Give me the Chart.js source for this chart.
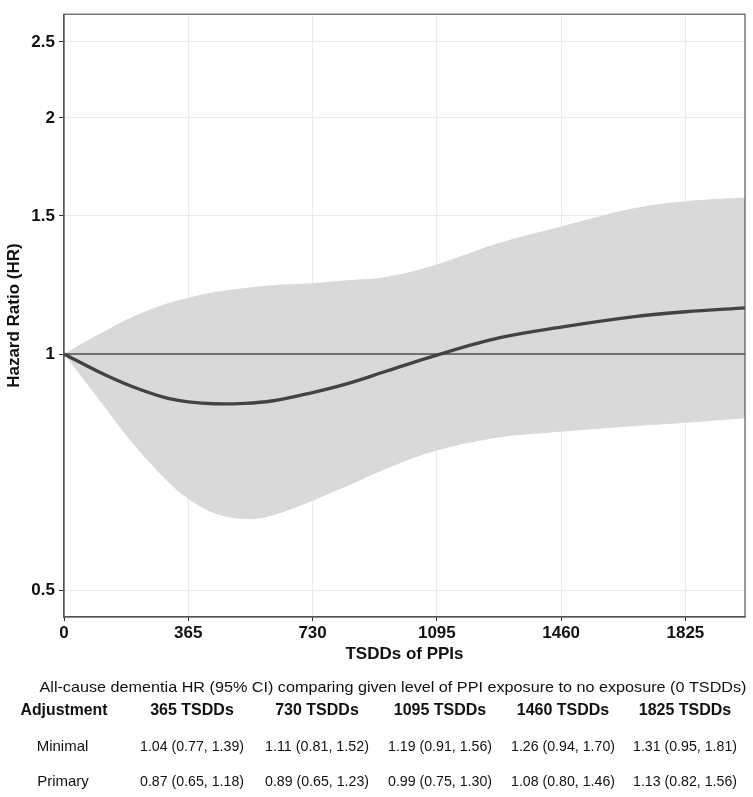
<!DOCTYPE html>
<html>
<head>
<meta charset="utf-8">
<script src="https://cdn.jsdelivr.net/npm/chart.js@4.4.1/dist/chart.umd.min.js"></script>
<style>
  html, body { margin: 0; padding: 0; background: #fff; }
  #wrap { width: 753px; height: 797px; }
</style>
</head>
<body>
<div id="wrap"><canvas id="hrChart" width="753" height="797"></canvas></div>
<script>
// spline (TSDDs -> HR with 95% CI)
const days  = [0, 100, 200, 300, 365, 440, 530, 610, 730, 830, 950, 1095, 1280, 1460, 1670, 1825, 2000];
const hr    = [1, 0.950, 0.909, 0.879, 0.869, 0.864, 0.865, 0.871, 0.893, 0.916, 0.952, 0.997, 1.049, 1.082, 1.115, 1.132, 1.145];
const upper = [1, 1.058, 1.115, 1.159, 1.180, 1.199, 1.214, 1.224, 1.231, 1.242, 1.255, 1.301, 1.386, 1.454, 1.533, 1.566, 1.583];
const lower = [1, 0.878, 0.771, 0.691, 0.654, 0.627, 0.616, 0.622, 0.650, 0.678, 0.715, 0.753, 0.783, 0.796, 0.809, 0.817, 0.828];
const refLine = [1, 1];
const refDays = [0, 2000];

const xTicks = [0, 365, 730, 1095, 1460, 1825];
const yTicks = [0.5, 1, 1.5, 2, 2.5];

// table under the plot
const tableTitle = 'All-cause dementia HR (95% CI) comparing given level of PPI exposure to no exposure (0 TSDDs)';
const tableCols = ['365 TSDDs', '730 TSDDs', '1095 TSDDs', '1460 TSDDs', '1825 TSDDs'];
const minimalRow = ['1.04 (0.77, 1.39)', '1.11 (0.81, 1.52)', '1.19 (0.91, 1.56)', '1.26 (0.94, 1.70)', '1.31 (0.95, 1.81)'];
const primaryRow = ['0.87 (0.65, 1.18)', '0.89 (0.65, 1.23)', '0.99 (0.75, 1.30)', '1.08 (0.80, 1.46)', '1.13 (0.82, 1.56)'];

const FONT = '"Liberation Sans", Arial, sans-serif';
const colX = [192, 317, 440, 563, 685];

function toPts(xs, ys) {
  return xs.map((x, i) => ({ x: x, y: ys[i] }));
}

// draw text centred on cx, squeezed/stretched to a given width
function fitText(ctx, text, cx, y, width) {
  const w = ctx.measureText(text).width;
  ctx.save();
  ctx.translate(cx, y);
  if (width) ctx.scale(width / w, 1);
  ctx.textAlign = 'center';
  ctx.fillText(text, 0, 0);
  ctx.restore();
}

const panelBorder = {
  id: 'panelBorder',
  afterDatasetsDraw(chart) {
    const { ctx, chartArea: a } = chart;
    ctx.save();
    ctx.strokeStyle = '#555';
    ctx.lineWidth = 1.2;
    ctx.strokeRect(a.left, a.top, a.right - a.left, a.bottom - a.top);
    ctx.restore();
  }
};

const hrTable = {
  id: 'hrTable',
  afterDraw(chart) {
    const ctx = chart.ctx;
    ctx.save();
    ctx.fillStyle = '#111';
    ctx.textBaseline = 'alphabetic';

    ctx.font = '15px ' + FONT;
    fitText(ctx, tableTitle, 393, 692, 707);

    ctx.font = 'bold 16px ' + FONT;
    fitText(ctx, 'Adjustment', 64, 715, 87);
    tableCols.forEach((t, i) => fitText(ctx, t, colX[i], 715, null));

    ctx.font = '15px ' + FONT;
    fitText(ctx, 'Minimal', 62.5, 751, null);
    fitText(ctx, 'Primary', 63, 786, null);
    minimalRow.forEach((t, i) => fitText(ctx, t, colX[i], 751, 104));
    primaryRow.forEach((t, i) => fitText(ctx, t, colX[i], 786, 104));
    ctx.restore();
  }
};

const ctx = document.getElementById('hrChart').getContext('2d');

new Chart(ctx, {
  type: 'line',
  data: {
    datasets: [
      {
        data: toPts(days, upper),
        borderWidth: 0,
        borderColor: 'rgba(0,0,0,0)',
        backgroundColor: '#d9d9d9',
        fill: '+1',
        pointRadius: 0,
        tension: 0.35,
        order: 3
      },
      {
        data: toPts(days, lower),
        borderWidth: 0,
        borderColor: 'rgba(0,0,0,0)',
        fill: false,
        pointRadius: 0,
        tension: 0.35,
        order: 3
      },
      {
        data: toPts(refDays, refLine),
        borderColor: '#4d4d4d',
        borderWidth: 1.6,
        fill: false,
        pointRadius: 0,
        order: 2
      },
      {
        data: toPts(days, hr),
        borderColor: '#3f4641',
        borderWidth: 3.4,
        fill: false,
        pointRadius: 0,
        tension: 0.35,
        order: 1
      }
    ]
  },
  options: {
    responsive: false,
    animation: false,
    devicePixelRatio: 1,
    layout: { padding: { top: 7, right: 8, bottom: 0, left: 0 } },
    plugins: {
      legend: { display: false },
      tooltip: { enabled: false }
    },
    scales: {
      x: {
        type: 'linear',
        min: 0,
        max: 2000,
        afterBuildTicks: s => { s.ticks = xTicks.map(v => ({ value: v })); },
        afterFit: s => { s.height = 180; },
        grid: { color: '#ebebeb', lineWidth: 1, tickColor: '#333', tickLength: 4 },
        border: { color: '#555', width: 1.2 },
        ticks: {
          color: '#111',
          padding: 2,
          maxRotation: 0,
          font: { family: FONT, size: 17, weight: 'bold' },
          callback: v => String(v)
        },
        title: {
          display: true,
          text: 'TSDDs of PPIs',
          color: '#111',
          font: { family: FONT, size: 17, weight: 'bold' },
          padding: { top: 0, bottom: 132 }
        }
      },
      y: {
        type: 'logarithmic',
        min: 0.462,
        max: 2.712,
        afterBuildTicks: s => { s.ticks = yTicks.map(v => ({ value: v })); },
        afterFit: s => { s.width = 64; },
        grid: { color: '#ebebeb', lineWidth: 1, tickColor: '#333', tickLength: 5 },
        border: { color: '#555', width: 1.2 },
        ticks: {
          color: '#111',
          padding: 4,
          font: { family: FONT, size: 17, weight: 'bold' },
          callback: v => String(v)
        },
        title: {
          display: true,
          text: 'Hazard Ratio (HR)',
          color: '#111',
          font: { family: FONT, size: 17, weight: 'bold' },
          padding: { top: 4, bottom: 0 }
        }
      }
    }
  },
  plugins: [panelBorder, hrTable]
});
</script>
</body>
</html>
